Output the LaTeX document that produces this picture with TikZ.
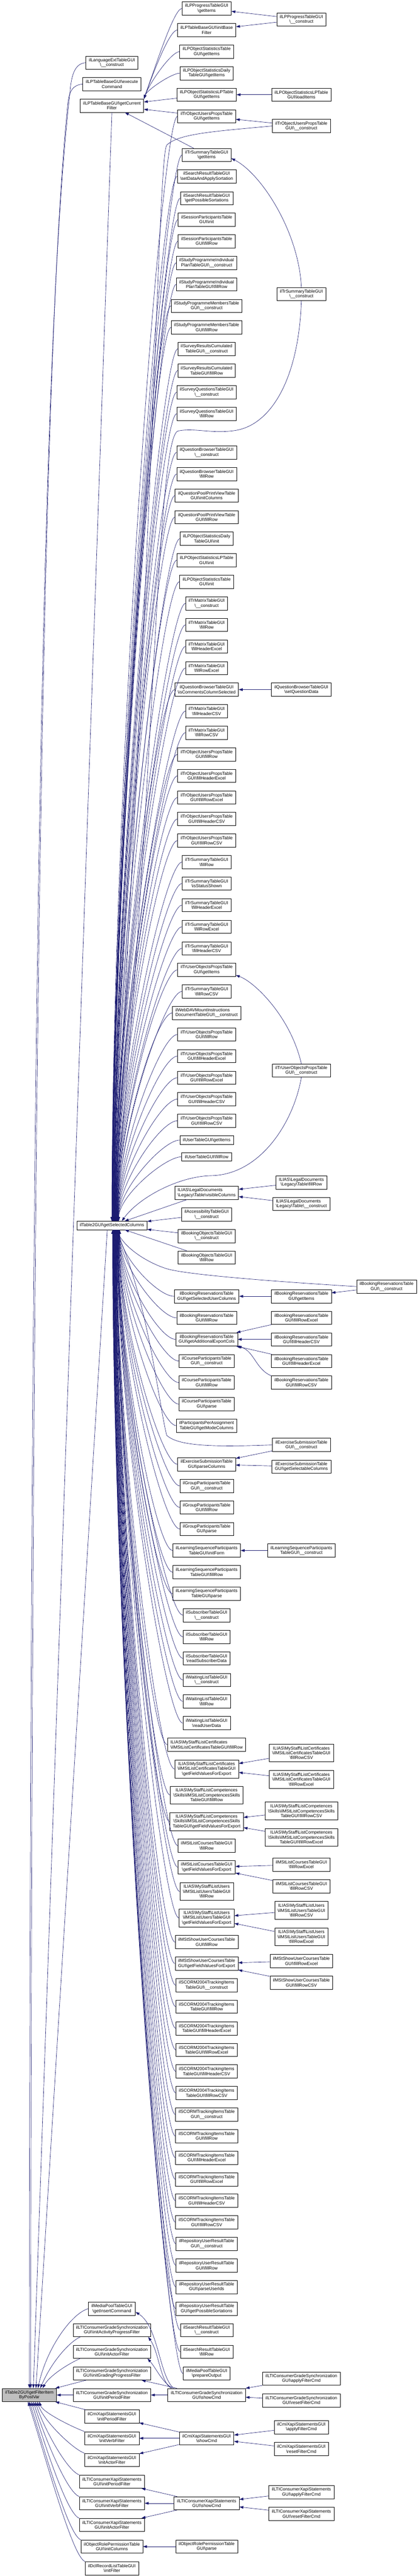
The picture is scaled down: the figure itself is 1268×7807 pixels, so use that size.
\documentclass[tikz,border=0pt]{standalone}
\usepackage{fontspec}
\setmainfont{Liberation Sans}
\usetikzlibrary{arrows.meta,calc}

\definecolor{edgeblue}{HTML}{191970}
\newcommand{\bsl}{\textbackslash}
\newcommand{\ctor}{\textbackslash\_\_construct}

\tikzset{
  fn/.style={draw=black, fill=white, line width=0.5pt,
    font=\fontsize{6.65pt}{7.35pt}\selectfont, align=center,
    inner xsep=4.5pt, inner ysep=0pt, minimum height=20pt},
  fn1/.style={fn, minimum height=12.8pt},
  fn3/.style={fn, minimum height=27.2pt},
  fnl/.style={fn, align=left},
  fnroot/.style={fn, fill=gray!50},
  call/.style={draw=edgeblue, line width=0.5pt, -{Triangle[length=6pt,width=4pt]}},
}

\begin{document}
\begin{tikzpicture}[x=0.5pt,y=-0.5pt]
\fill[white] (0,0) rectangle (1268,7807);
\useasboundingbox (0,0) rectangle (1268,7807);

% the called function
\node[fnroot] (gf) at (89,7258.4) {ilTable2GUI\bsl getFilterItem\\ByPostVar};

% direct callers
\node[fn] (lec) at (339,190) {ilLanguageExtTableGUI\\\ctor};
\node[fn] (lex) at (339,255) {ilLPTableBaseGUI\bsl execute\\Command};
\node[fn] (cf) at (339,320.3) {ilLPTableBaseGUI\bsl getCurrent\\Filter};
\node[fn1] (sc) at (339,3714) {ilTable2GUI\bsl getSelectedColumns};
\node[fn] (mgi) at (339,6996.7) {ilMediaPoolTableGUI\\\bsl getInsertCommand};
\node[fn] (gap) at (339,7061.9) {ilLTIConsumerGradeSynchronization\\GUI\bsl initActivityProgressFilter};
\node[fn] (gac) at (339,7127.2) {ilLTIConsumerGradeSynchronization\\GUI\bsl initActorFilter};
\node[fn] (ggp) at (339,7193.1) {ilLTIConsumerGradeSynchronization\\GUI\bsl initGradingProgressFilter};
\node[fn] (gpf) at (339,7258.4) {ilLTIConsumerGradeSynchronization\\GUI\bsl initPeriodFilter};
\node[fn] (cpf) at (339,7323.8) {ilCmiXapiStatementsGUI\\\bsl initPeriodFilter};
\node[fn] (cvf) at (339,7389.5) {ilCmiXapiStatementsGUI\\\bsl initVerbFilter};
\node[fn] (cxa) at (339,7455.2) {ilCmiXapiStatementsGUI\\\bsl initActorFilter};
\node[fn] (xpf) at (339,7520.8) {ilLTIConsumerXapiStatements\\GUI\bsl initPeriodFilter};
\node[fn] (xvf) at (339,7586.5) {ilLTIConsumerXapiStatements\\GUI\bsl initVerbFilter};
\node[fn] (xac) at (339,7652.1) {ilLTIConsumerXapiStatements\\GUI\bsl initActorFilter};
\node[fn] (ric) at (339,7717.8) {ilObjectRolePermissionTable\\GUI\bsl initColumns};
\node[fn] (dcl) at (339,7783.5) {ilDclRecordListTableGUI\\\bsl initFilter};

% callers of getCurrentFilter
\node[fn] (p1) at (626,25.7) {ilLPProgressTableGUI\\\bsl getItems};
\node[fn] (p2) at (626,91) {ilLPTableBaseGUI\bsl initBase\\Filter};
\node[fn] (p3) at (626,156.6) {ilLPObjectStatisticsTable\\GUI\bsl getItems};
\node[fn] (p4) at (626,221.8) {ilLPObjectStatisticsDaily\\TableGUI\bsl getItems};
\node[fn] (p5) at (626,287) {ilLPObjectStatisticsLPTable\\GUI\bsl getItems};
\node[fn] (p6) at (626,352.7) {ilTrObjectUsersPropsTable\\GUI\bsl getItems};
\node[fn] (p7) at (626,469.7) {ilTrSummaryTableGUI\\\bsl getItems};

% callers of getSelectedColumns, above it
\node[fn] (q1) at (626,534.6) {ilSearchResultTableGUI\\\bsl setDataAndApplySortation};
\node[fn] (q2) at (626,600.6) {ilSearchResultTableGUI\\\bsl getPossibleSortations};
\node[fn] (q3) at (626,665.5) {ilSessionParticipantsTable\\GUI\bsl init};
\node[fn] (q4) at (626,731) {ilSessionParticipantsTable\\GUI\bsl fillRow};
\node[fn] (q5) at (626,796.5) {ilStudyProgrammeIndividual\\PlanTableGUI\ctor};
\node[fn] (q6) at (626,861.7) {ilStudyProgrammeIndividual\\PlanTableGUI\bsl fillRow};
\node[fn] (q7) at (626,927) {ilStudyProgrammeMembersTable\\GUI\ctor};
\node[fn] (q8) at (626,992.2) {ilStudyProgrammeMembersTable\\GUI\bsl fillRow};
\node[fn] (q9) at (626,1057.4) {ilSurveyResultsCumulated\\TableGUI\ctor};
\node[fn] (q10) at (626,1123.1) {ilSurveyResultsCumulated\\TableGUI\bsl fillRow};
\node[fn] (q11) at (626,1188.8) {ilSurveyQuestionsTableGUI\\\ctor};
\node[fn] (q12) at (626,1254) {ilSurveyQuestionsTableGUI\\\bsl fillRow};
\node[fn] (q13) at (626,1371.1) {ilQuestionBrowserTableGUI\\\ctor};
\node[fn] (q14) at (626,1436.8) {ilQuestionBrowserTableGUI\\\bsl fillRow};
\node[fn] (q15) at (626,1502) {ilQuestionPoolPrintViewTable\\GUI\bsl initColumns};
\node[fn] (q16) at (626,1567.3) {ilQuestionPoolPrintViewTable\\GUI\bsl fillRow};
\node[fn] (q17) at (626,1632.5) {ilLPObjectStatisticsDaily\\TableGUI\bsl init};
\node[fn] (q18) at (626,1697.8) {ilLPObjectStatisticsLPTable\\GUI\bsl init};
\node[fn] (q19) at (626,1763) {ilLPObjectStatisticsTable\\GUI\bsl init};
\node[fn] (q20) at (626,1828.7) {ilTrMatrixTableGUI\\\ctor};
\node[fn] (q21) at (626,1893.9) {ilTrMatrixTableGUI\\\bsl fillRow};
\node[fn] (q22) at (626,1959.2) {ilTrMatrixTableGUI\\\bsl fillHeaderExcel};
\node[fn] (q23) at (626,2024.7) {ilTrMatrixTableGUI\\\bsl fillRowExcel};
\node[fn] (q24) at (626,2090) {ilQuestionBrowserTableGUI\\\bsl isCommentsColumnSelected};
\node[fn] (q25) at (626,2155.2) {ilTrMatrixTableGUI\\\bsl fillHeaderCSV};
\node[fn] (q26) at (626,2220.4) {ilTrMatrixTableGUI\\\bsl fillRowCSV};
\node[fn] (q27) at (626,2285.9) {ilTrObjectUsersPropsTable\\GUI\bsl fillRow};
\node[fn] (q28) at (626,2351.1) {ilTrObjectUsersPropsTable\\GUI\bsl fillHeaderExcel};
\node[fn] (q29) at (626,2416.8) {ilTrObjectUsersPropsTable\\GUI\bsl fillRowExcel};
\node[fn] (q30) at (626,2482) {ilTrObjectUsersPropsTable\\GUI\bsl fillHeaderCSV};
\node[fn] (q31) at (626,2547.3) {ilTrObjectUsersPropsTable\\GUI\bsl fillRowCSV};
\node[fn] (q32) at (626,2612.6) {ilTrSummaryTableGUI\\\bsl fillRow};
\node[fn] (q33) at (626,2677.4) {ilTrSummaryTableGUI\\\bsl isStatusShown};
\node[fn] (q34) at (626,2743.1) {ilTrSummaryTableGUI\\\bsl fillHeaderExcel};
\node[fn] (q35) at (626,2808.6) {ilTrSummaryTableGUI\\\bsl fillRowExcel};
\node[fn] (q36) at (626,2874) {ilTrSummaryTableGUI\\\bsl fillHeaderCSV};
\node[fn] (q37) at (626,2939.3) {ilTrUserObjectsPropsTable\\GUI\bsl getItems};
\node[fn] (q38) at (626,3004.5) {ilTrSummaryTableGUI\\\bsl fillRowCSV};
\node[fnl] (q39) at (626,3069.7) {ilWebDAVMountInstructions\\DocumentTableGUI\ctor};
\node[fn] (q40) at (626,3135) {ilTrUserObjectsPropsTable\\GUI\bsl fillRow};
\node[fn] (q41) at (626,3200.6) {ilTrUserObjectsPropsTable\\GUI\bsl fillHeaderExcel};
\node[fn] (q42) at (626,3266) {ilTrUserObjectsPropsTable\\GUI\bsl fillRowExcel};
\node[fn] (q43) at (626,3331) {ilTrUserObjectsPropsTable\\GUI\bsl fillHeaderCSV};
\node[fn] (q44) at (626,3396.5) {ilTrUserObjectsPropsTable\\GUI\bsl fillRowCSV};
\node[fn1] (q45) at (626,3455.2) {ilUserTableGUI\bsl getItems};
\node[fn1] (q46) at (626,3505.7) {ilUserTableGUI\bsl fillRow};
\node[fnl] (lv) at (626,3615.1) {ILIAS\bsl LegalDocuments\\\bsl Legacy\bsl Table\bsl visibleColumns};
\node[fn] (ac) at (626,3680.6) {ilAccessibilityTableGUI\\\ctor};
\node[fn] (bo1) at (626,3745.8) {ilBookingObjectsTableGUI\\\ctor};
\node[fn] (bo2) at (626,3811) {ilBookingObjectsTableGUI\\\bsl fillRow};

% callers of getSelectedColumns, below it
\node[fn] (r1) at (626,3928.6) {ilBookingReservationsTable\\GUI\bsl getSelectedUserColumns};
\node[fn] (r2) at (626,3993.9) {ilBookingReservationsTable\\GUI\bsl fillRow};
\node[fn] (r3) at (626,4059.1) {ilBookingReservationsTable\\GUI\bsl getAdditionalExportCols};
\node[fn] (r4) at (626,4124.8) {ilCourseParticipantsTable\\GUI\ctor};
\node[fn] (r5) at (626,4190) {ilCourseParticipantsTable\\GUI\bsl fillRow};
\node[fn] (r6) at (626,4255.3) {ilCourseParticipantsTable\\GUI\bsl parse};
\node[fn] (r7) at (626,4320.5) {ilParticipantsPerAssignment\\TableGUI\bsl getModeColumns};
\node[fn] (r8) at (626,4437.9) {ilExerciseSubmissionTable\\GUI\bsl parseColumns};
\node[fn] (r9) at (626,4503.2) {ilGroupParticipantsTable\\GUI\ctor};
\node[fn] (r10) at (626,4568.4) {ilGroupParticipantsTable\\GUI\bsl fillRow};
\node[fn] (r11) at (626,4633.8) {ilGroupParticipantsTable\\GUI\bsl parse};
\node[fn] (r12) at (626,4699) {ilLearningSequenceParticipants\\TableGUI\bsl initForm};
\node[fn] (r13) at (626,4764.7) {ilLearningSequenceParticipants\\TableGUI\bsl fillRow};
\node[fn] (r14) at (626,4829.9) {ilLearningSequenceParticipants\\TableGUI\bsl parse};
\node[fn] (r15) at (626,4895.1) {ilSubscriberTableGUI\\\ctor};
\node[fn] (r16) at (626,4960.8) {ilSubscriberTableGUI\\\bsl fillRow};
\node[fn] (r17) at (626,5026) {ilSubscriberTableGUI\\\bsl readSubscriberData};
\node[fn] (r18) at (626,5091.3) {ilWaitingListTableGUI\\\ctor};
\node[fn] (r19) at (626,5156.5) {ilWaitingListTableGUI\\\bsl fillRow};
\node[fn] (r20) at (626,5221.9) {ilWaitingListTableGUI\\\bsl readUserData};
\node[fnl] (r21) at (626,5287.3) {ILIAS\bsl MyStaff\bsl ListCertificates\\\bsl ilMStListCertificatesTableGUI\bsl fillRow};
\node[fn3] (r22) at (626,5361) {ILIAS\bsl MyStaff\bsl ListCertificates\\\bsl ilMStListCertificatesTableGUI\\\bsl getFieldValuesForExport};
\node[fn3] (r23) at (626,5440.3) {ILIAS\bsl MyStaff\bsl ListCompetences\\\bsl Skills\bsl ilMStListCompetencesSkills\\TableGUI\bsl fillRow};
\node[fn3] (r24) at (626,5520.3) {ILIAS\bsl MyStaff\bsl ListCompetences\\\bsl Skills\bsl ilMStListCompetencesSkills\\TableGUI\bsl getFieldValuesForExport};
\node[fn] (r25) at (626,5593.6) {ilMStListCoursesTableGUI\\\bsl fillRow};
\node[fn] (r26) at (626,5659) {ilMStListCoursesTableGUI\\\bsl getFieldValuesForExport};
\node[fn3] (r27) at (626,5732.4) {ILIAS\bsl MyStaff\bsl ListUsers\\\bsl ilMStListUsersTableGUI\\\bsl fillRow};
\node[fn3] (r28) at (626,5812.4) {ILIAS\bsl MyStaff\bsl ListUsers\\\bsl ilMStListUsersTableGUI\\\bsl getFieldValuesForExport};
\node[fn] (r29) at (626,5885.8) {ilMStShowUserCoursesTable\\GUI\bsl fillRow};
\node[fn] (r30) at (626,5951) {ilMStShowUserCoursesTable\\GUI\bsl getFieldValuesForExport};
\node[fn] (r31) at (626,6016.7) {ilSCORM2004TrackingItems\\TableGUI\ctor};
\node[fn] (r32) at (626,6081.5) {ilSCORM2004TrackingItems\\TableGUI\bsl fillRow};
\node[fn] (r33) at (626,6147.2) {ilSCORM2004TrackingItems\\TableGUI\bsl fillHeaderExcel};
\node[fn] (r34) at (626,6212.4) {ilSCORM2004TrackingItems\\TableGUI\bsl fillRowExcel};
\node[fn] (r35) at (626,6277.6) {ilSCORM2004TrackingItems\\TableGUI\bsl fillHeaderCSV};
\node[fn] (r36) at (626,6342.9) {ilSCORM2004TrackingItems\\TableGUI\bsl fillRowCSV};
\node[fn] (r37) at (626,6408.5) {ilSCORMTrackingItemsTable\\GUI\ctor};
\node[fn] (r38) at (626,6473.8) {ilSCORMTrackingItemsTable\\GUI\bsl fillRow};
\node[fn] (r39) at (626,6539.1) {ilSCORMTrackingItemsTable\\GUI\bsl fillHeaderExcel};
\node[fn] (r40) at (626,6604.8) {ilSCORMTrackingItemsTable\\GUI\bsl fillRowExcel};
\node[fn] (r41) at (626,6669.6) {ilSCORMTrackingItemsTable\\GUI\bsl fillHeaderCSV};
\node[fn] (r42) at (626,6734.9) {ilSCORMTrackingItemsTable\\GUI\bsl fillRowCSV};
\node[fn] (r43) at (626,6800.5) {ilRepositoryUserResultTable\\GUI\ctor};
\node[fn] (r44) at (626,6865.8) {ilRepositoryUserResultTable\\GUI\bsl fillRow};
\node[fn] (r45) at (626,6931) {ilRepositoryUserResultTable\\GUI\bsl parseUserIds};
\node[fn] (r46) at (626,6996.7) {ilRepositoryUserResultTable\\GUI\bsl getPossibleSortations};
\node[fn] (r47) at (626,7061.9) {ilSearchResultTableGUI\\\ctor};
\node[fn] (r48) at (626,7127.2) {ilSearchResultTableGUI\\\bsl fillRow};
\node[fn] (r49) at (626,7193.1) {ilMediaPoolTableGUI\\\bsl prepareOutput};

% second level, bottom
\node[fn] (gsc) at (626,7258.4) {ilLTIConsumerGradeSynchronization\\GUI\bsl showCmd};
\node[fn] (csc) at (626,7389.5) {ilCmiXapiStatementsGUI\\\bsl showCmd};
\node[fn] (xsc) at (626,7586.5) {ilLTIConsumerXapiStatements\\GUI\bsl showCmd};
\node[fn] (rpa) at (626,7717.8) {ilObjectRolePermissionTable\\GUI\bsl parse};

% third level
\node[fn] (lpc) at (913,58.9) {ilLPProgressTableGUI\\\ctor};
\node[fn] (oll) at (913,287) {ilLPObjectStatisticsLPTable\\GUI\bsl loadItems};
\node[fn] (ouc) at (913,381.8) {ilTrObjectUsersPropsTable\\GUI\ctor};
\node[fn] (tsc) at (913,891.2) {ilTrSummaryTableGUI\\\ctor};
\node[fn] (qbs) at (913,2090) {ilQuestionBrowserTableGUI\\\bsl setQuestionData};
\node[fn] (tuc) at (913,3244.5) {ilTrUserObjectsPropsTable\\GUI\ctor};
\node[fn] (lfr) at (913,3583.4) {ILIAS\bsl LegalDocuments\\\bsl Legacy\bsl Table\bsl fillRow};
\node[fnl] (lco) at (913,3648.6) {ILIAS\bsl LegalDocuments\\\bsl Legacy\bsl Table\ctor};
\node[fn] (bri) at (913,3928.6) {ilBookingReservationsTable\\GUI\bsl getItems};
\node[fn] (bxe) at (913,3993.9) {ilBookingReservationsTable\\GUI\bsl fillRowExcel};
\node[fn] (bhc) at (913,4059.1) {ilBookingReservationsTable\\GUI\bsl fillHeaderCSV};
\node[fn] (bhe) at (913,4124.8) {ilBookingReservationsTable\\GUI\bsl fillHeaderExcel};
\node[fn] (brc) at (913,4190) {ilBookingReservationsTable\\GUI\bsl fillRowCSV};
\node[fn] (esc) at (913,4379) {ilExerciseSubmissionTable\\GUI\ctor};
\node[fn] (esg) at (913,4444.7) {ilExerciseSubmissionTable\\GUI\bsl getSelectableColumns};
\node[fn] (lsc) at (913,4699) {ilLearningSequenceParticipants\\TableGUI\ctor};
\node[fn3] (mcc) at (913,5312.4) {ILIAS\bsl MyStaff\bsl ListCertificates\\\bsl ilMStListCertificatesTableGUI\\\bsl fillRowCSV};
\node[fn3] (mce) at (913,5392.4) {ILIAS\bsl MyStaff\bsl ListCertificates\\\bsl ilMStListCertificatesTableGUI\\\bsl fillRowExcel};
\node[fn3] (mkc) at (913,5488.3) {ILIAS\bsl MyStaff\bsl ListCompetences\\\bsl Skills\bsl ilMStListCompetencesSkills\\TableGUI\bsl fillRowCSV};
\node[fn3] (mke) at (913,5568.3) {ILIAS\bsl MyStaff\bsl ListCompetences\\\bsl Skills\bsl ilMStListCompetencesSkills\\TableGUI\bsl fillRowExcel};
\node[fn] (mle) at (913,5651) {ilMStListCoursesTableGUI\\\bsl fillRowExcel};
\node[fn] (mlc) at (913,5716.5) {ilMStListCoursesTableGUI\\\bsl fillRowCSV};
\node[fn3] (muc) at (913,5789.7) {ILIAS\bsl MyStaff\bsl ListUsers\\\bsl ilMStListUsersTableGUI\\\bsl fillRowCSV};
\node[fn3] (mue) at (913,5869.7) {ILIAS\bsl MyStaff\bsl ListUsers\\\bsl ilMStListUsersTableGUI\\\bsl fillRowExcel};
\node[fn] (mse) at (913,5943) {ilMStShowUserCoursesTable\\GUI\bsl fillRowExcel};
\node[fn] (msc) at (913,6008.7) {ilMStShowUserCoursesTable\\GUI\bsl fillRowCSV};
\node[fn] (gaf) at (913,7208.9) {ilLTIConsumerGradeSynchronization\\GUI\bsl applyFilterCmd};
\node[fn] (grf) at (913,7274.6) {ilLTIConsumerGradeSynchronization\\GUI\bsl resetFilterCmd};
\node[fn] (caf) at (913,7355.8) {ilCmiXapiStatementsGUI\\\bsl applyFilterCmd};
\node[fn] (crf) at (913,7421.9) {ilCmiXapiStatementsGUI\\\bsl resetFilterCmd};
\node[fn] (xaf) at (913,7552.8) {ilLTIConsumerXapiStatements\\GUI\bsl applyFilterCmd};
\node[fn] (xrf) at (913,7618.5) {ilLTIConsumerXapiStatements\\GUI\bsl resetFilterCmd};

% fourth level
\node[fn] (brk) at (1171,3899) {ilBookingReservationsTable\\GUI\ctor};

% calls into getCurrentFilter
\foreach \i in {1,...,4}
  \draw[call] let \p1=(p\i.west), \p2=(cf.north east) in
    (\p1) .. controls (\x1-12pt,\y1) and ({\x2+0.13*(\y1-\y2)},{\y2+0.36*(\y1-\y2)}) .. (\p2);
\foreach \src in {p5,p6,p7}
  \draw[call] (\src) -- (cf);

% calls into getSelectedColumns
\foreach \src in {p6,p7}
  \draw[call] let \p1=(\src.west), \p2=(sc.north) in
    (\p1) .. controls (\x1-25pt,\y1) and (\x2,{0.39*\y1+0.61*\y2}) .. (\p2);
\foreach \i in {1,...,46}
  \draw[call] let \p1=(q\i.west), \p2=($(sc.north)+(\i*0.45,0)$) in
    (\p1) .. controls (\x1-25pt,\y1) and (\x2,{0.39*\y1+0.61*\y2}) .. (\p2);
\foreach \i in {1,...,49}
  \draw[call] let \p1=(r\i.west), \p2=($(sc.south)+(24-\i*0.45,0)$) in
    (\p1) .. controls (\x1-25pt,\y1) and (\x2,{0.39*\y1+0.61*\y2}) .. (\p2);
\foreach \src in {lv,ac,bo1,bo2}
  \draw[call] (\src) -- (sc);
\draw[call] (ouc.west) .. controls (650,398) and (540,405) .. (505,440)
  .. controls (480,480) and (470,1500) .. ($(sc.north)+(2,0)$);
\draw[call] (tsc.north) .. controls (905,700) and (790,525) .. ([yshift=-5pt]p7.east);
\draw[call] (tsc.south) .. controls (905,1150) and (820,1290) .. (710,1305)
  .. controls (640,1315) and (590,1296) .. (540,1306)
  .. controls (470,1320) and (470,2500) .. ($(sc.north)+(4,0)$);
\draw[call] (tuc.north) .. controls (880,3080) and (770,2975) .. ([yshift=-8pt]q37.east);
\draw[call] (tuc.south) .. controls (890,3400) and (790,3560) .. (640,3563)
  .. controls (540,3565) and (420,3630) .. ($(sc.north)+(30,0)$);
\draw[call] (brk.west) .. controls (800,3882) and (560,3862) .. (505,3845)
  .. controls (450,3828) and (380,3785) .. ($(sc.south)+(14,0)$);
\draw[call] (esc.west) .. controls (640,4386) and (540,4382) .. (505,4350)
  .. controls (480,4250) and (450,3950) .. ($(sc.south)+(12,0)$);
\draw[call] (brc.north west) .. controls (775,4150) and (770,4095) .. (r3.south east);

% third level into second level
\foreach \src/\dst in {lpc/p1,lpc/p2,oll/p5,ouc/p6,qbs/q24,lfr/lv,lco/lv,brk/bri,
    bri/r1,bxe/r3,bhc/r3,bhe/r3,esc/r8,esg/r8,lsc/r12,mcc/r22,mce/r22,mkc/r24,
    mke/r24,mle/r26,mlc/r26,muc/r28,mue/r28,mse/r30,msc/r30,gaf/gsc,grf/gsc,
    caf/csc,crf/csc,xaf/xsc,xrf/xsc}
  \draw[call] (\src) -- (\dst);

% second level into first level, bottom
\draw[call] ([xshift=9pt]gsc.north west) .. controls (482,7200) and (480,7050) .. ([yshift=-5pt]mgi.east);
\draw[call] ([xshift=5pt]gsc.north west) .. controls (485,7215) and (482,7130) .. ([xshift=-4pt]gap.south east);
\draw[call] ([xshift=7pt]gsc.north west) .. controls (488,7215) and (475,7180) .. ([xshift=-5pt]gac.south east);
\foreach \dst in {ggp,gpf}
  \draw[call] (gsc) -- (\dst);
\foreach \dst in {cpf,cvf,cxa}
  \draw[call] (csc) -- (\dst);
\foreach \dst in {xpf,xvf,xac}
  \draw[call] (xsc) -- (\dst);
\draw[call] (rpa) -- (ric);

% calls into getFilterItemByPostVar
\draw[call] (lec.west) .. controls (228,192) and (216,225) .. (212,280)
  .. controls (130,1000) and (92,3000) .. (gf.north);
\draw[call] (lex.west) .. controls (222,257) and (208,275) .. (205,320)
  .. controls (136,1000) and (96,3000) .. ($(gf.north)+(4,0)$);
\draw[call] (cf.south) -- ($(gf.north)+(12,0)$);
\draw[call] ([xshift=-7pt]sc.south) -- ($(gf.north)+(20,0)$);
\draw[call] (mgi.west) .. controls (215,7012) and (140,7120) .. ($(gf.north)+(26,0)$);
\draw[call] ([xshift=11pt]gap.south west) .. controls (215,7095) and (160,7150) .. ($(gf.north)+(33,0)$);
\draw[call] ([xshift=11pt]gac.south west) .. controls (205,7165) and (150,7200) .. ($(gf.north)+(40,0)$);
\foreach \src in {ggp,gpf,cpf}
  \draw[call] (\src) -- (gf);
\foreach \src/\dx in {cvf/30,cxa/24,xpf/18,xvf/12,xac/6,ric/0,dcl/-4}
  \draw[call] let \p1=(\src.north west), \p2=($(gf.south)+(\dx,0)$) in
    (\p1) .. controls (\x1-19pt,\y1+7pt) and ({\x2+0.11*(\y2-\y1)},{\y2-0.35*(\y2-\y1)}) .. (\p2);
\end{tikzpicture}
\end{document}
